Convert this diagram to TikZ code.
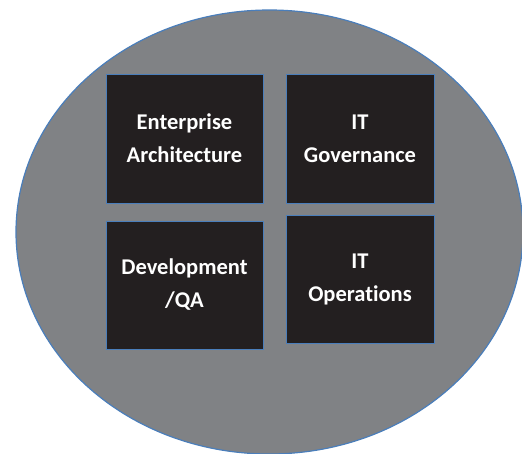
\documentclass[tikz,border=0pt]{standalone}
\usepackage{fontspec}
\usetikzlibrary{shapes.geometric}
\setmainfont{Carlito}[Ligatures={NoCommon}]
\definecolor{ellfill}{HTML}{808285}
\definecolor{ellline}{HTML}{4A7EBB}
\definecolor{boxfill}{HTML}{231F20}
\begin{document}
\begin{tikzpicture}[x=1pt,y=-1pt,
  area/.style={draw=ellline,line width=0.8pt,fill=boxfill,text=white,
    font=\bfseries\fontsize{22.5}{33}\selectfont,align=center,inner sep=0pt}]
\useasboundingbox (0,0) rectangle (522,453);
\begin{scope}
\clip (0,0) rectangle (522,453);
\node[draw=ellline,line width=1.2pt,fill=ellfill,ellipse,minimum width=507pt,minimum height=444pt,inner sep=0pt] (circ) at (269.5,232) {};
\end{scope}
\node[area,minimum width=157pt,minimum height=129pt] (ea) at (184.5,138.5) {Enterprise\\Architecture};
\node[area,minimum width=148pt,minimum height=129pt] (itg) at (360,138.5) {IT\\Governance};
\node[area,minimum width=157pt,minimum height=128pt] (dev) at (184.5,285) {Development\\/QA};
\node[area,minimum width=148pt,minimum height=128pt] (ops) at (360,279.5) {IT\\Operations};
\end{tikzpicture}
\end{document}
